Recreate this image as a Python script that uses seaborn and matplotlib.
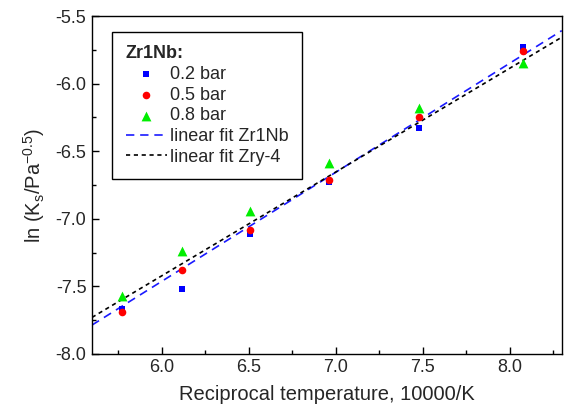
import matplotlib
matplotlib.use("Agg")
import matplotlib.pyplot as plt
import numpy as np
import pandas as pd
import seaborn as sns
from matplotlib.ticker import MultipleLocator, FormatStrFormatter

# reciprocal temperature, 10000/K
recip_temp = [5.77, 6.12, 6.51, 6.96, 7.48, 8.08]
# ln(Ks) for Zr1Nb at three pressures
ks_02bar = [-7.67, -7.52, -7.11, -6.73, -6.33, -5.73]
ks_05bar = [-7.69, -7.38, -7.08, -6.71, -6.25, -5.76]
ks_08bar = [-7.57, -7.24, -6.94, -6.59, -6.18, -5.85]

# linear fits (slope, intercept)
fit_zr1nb = (0.807, -12.306)
fit_zry4 = (0.768, -12.031)

x_range = [5.6, 8.3]

sns.set_theme(style="ticks")
plt.rcParams["font.family"] = ["Liberation Sans", "DejaVu Sans"]
plt.rcParams["mathtext.fontset"] = "custom"
plt.rcParams["mathtext.rm"] = "Liberation Sans"
plt.rcParams["mathtext.it"] = "Liberation Sans"

df = pd.DataFrame({
    "x": recip_temp * 3,
    "y": ks_02bar + ks_05bar + ks_08bar,
    "series": ["0.2 bar"] * 6 + ["0.5 bar"] * 6 + ["0.8 bar"] * 6,
})

fig = plt.figure(figsize=(5.64, 4.12), dpi=100)
ax = fig.add_axes([0.163, 0.141, 0.833, 0.820])

fx = np.array(x_range)
fit_df = pd.DataFrame({"x": fx,
                       "zr1nb": fit_zr1nb[0] * fx + fit_zr1nb[1],
                       "zry4": fit_zry4[0] * fx + fit_zry4[1]})

sns.lineplot(data=fit_df, x="x", y="zr1nb", ax=ax, color="#1a1aff", lw=1.2,
             linestyle=(0, (5, 3.5)), label="linear fit Zr1Nb", zorder=2)
sns.lineplot(data=fit_df, x="x", y="zry4", ax=ax, color="black", lw=1.2,
             linestyle=(0, (2.5, 2.2)), label="linear fit Zry-4", zorder=2)

palette = {"0.2 bar": "#0000ff", "0.5 bar": "#ff0000", "0.8 bar": "#00ee00"}
sizes = {"0.2 bar": 22, "0.5 bar": 30, "0.8 bar": 50}
markers = {"0.2 bar": "s", "0.5 bar": "o", "0.8 bar": "^"}
for name in ["0.2 bar", "0.5 bar", "0.8 bar"]:
    sub = df[df["series"] == name]
    sns.scatterplot(data=sub, x="x", y="y", ax=ax, color=palette[name],
                    marker=markers[name], s=sizes[name], linewidth=0,
                    label=name, zorder=3)

ax.set_xlim(5.6, 8.3)
ax.set_ylim(-8.0, -5.5)
ax.xaxis.set_major_locator(MultipleLocator(0.5))
ax.xaxis.set_minor_locator(MultipleLocator(0.25))
ax.yaxis.set_major_locator(MultipleLocator(0.5))
ax.yaxis.set_minor_locator(MultipleLocator(0.25))
ax.xaxis.set_major_formatter(FormatStrFormatter("%.1f"))
ax.yaxis.set_major_formatter(FormatStrFormatter("%.1f"))
ax.tick_params(which="major", direction="in", length=5, width=1, labelsize=13,
               color="black", pad=4)
ax.tick_params(which="minor", direction="in", length=3, width=1, color="black")
for sp in ax.spines.values():
    sp.set_linewidth(1.0)
    sp.set_color("black")

ax.set_xlabel("Reciprocal temperature, 10000/K", fontsize=14.5, labelpad=6)
ax.set_ylabel("ln (K$_\\mathregular{s}$/Pa$^{\\mathregular{-0.5}}$)", fontsize=14.5, labelpad=6)

handles, labels = ax.get_legend_handles_labels()
order = [labels.index(l) for l in ["0.2 bar", "0.5 bar", "0.8 bar", "linear fit Zr1Nb", "linear fit Zry-4"]]
leg = ax.legend([handles[i] for i in order], [labels[i] for i in order],
                title="Zr1Nb:", loc="upper left", bbox_to_anchor=(0.043, 0.953),
                fontsize=13, title_fontproperties={"weight": "bold", "size": 13},
                frameon=True, fancybox=False, framealpha=1, edgecolor="black",
                handlelength=2.3, handletextpad=0.15, labelspacing=0.2,
                borderpad=0.75, borderaxespad=0)
leg.get_frame().set_linewidth(1.0)
leg._legend_box.align = "left"

fig.savefig("out.png", dpi=100)
